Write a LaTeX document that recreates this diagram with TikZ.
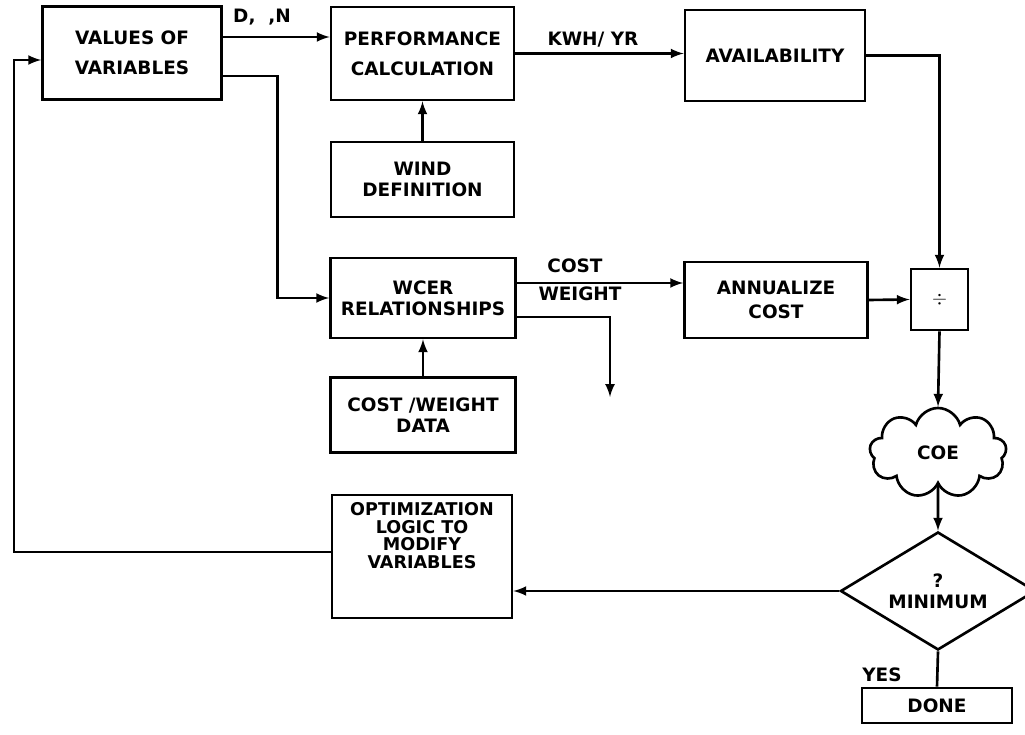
\documentclass[tikz,border=0pt]{standalone}
\usepackage{fontspec}
\setmainfont{DejaVu Sans}
\usetikzlibrary{shapes.geometric,shapes.symbols}
\begin{document}
\begin{tikzpicture}[>=latex, line width=1.5pt,
  box/.style={draw, align=center, inner sep=2pt,
    font=\bfseries\fontsize{10.5}{12}\selectfont},
  lbl/.style={font=\bfseries\fontsize{10.5}{12}\selectfont}]
\useasboundingbox (0,0) rectangle (20.5,14.7);
% Kaesten oben
\node[box, minimum width=3.58cm, minimum height=1.86cm] (vals) at (2.64,13.64) {VALUES OF\\[5pt]VARIABLES};
\node[box, minimum width=3.66cm, minimum height=1.86cm] (perf) at (8.45,13.63) {PERFORMANCE\\[5pt]CALCULATION};
\node[box, minimum width=3.60cm, minimum height=1.82cm] (avail) at (15.50,13.59) {AVAILABILITY};
\node[box, minimum width=3.66cm, minimum height=1.50cm] (wind) at (8.45,11.11) {WIND\\DEFINITION};
% Kaesten Mitte
\node[box, minimum width=3.70cm, minimum height=1.60cm] (wcer) at (8.46,8.74) {WCER\\RELATIONSHIPS};
\node[box, minimum width=3.70cm, minimum height=1.50cm] (costw) at (8.46,6.40) {COST /WEIGHT\\DATA};
\node[box, minimum width=3.66cm, minimum height=1.52cm] (annual) at (15.52,8.70) {ANNUALIZE\\[2pt]COST};
\node[box, minimum width=1.14cm, minimum height=1.22cm] (div) at (18.79,8.71) {$\div$};
% Ergebnis und Abfrage
\node[draw, cloud, cloud puffs=9, aspect=1.6, minimum width=2.74cm, minimum height=1.8cm, lbl] (coe) at (18.76,5.64) {COE};
\node[draw, diamond, aspect=1.65, inner sep=0pt, minimum width=3.9cm, minimum height=2.36cm, align=center, lbl] (minim) at (18.76,2.88) {?\\MINIMUM};
\node[box, minimum width=3.0cm, minimum height=0.70cm] (done) at (18.74,0.59) {DONE};
\node[box, minimum width=3.60cm, minimum height=2.46cm, font=\bfseries\fontsize{10}{10}\selectfont] (opt) at (8.44,3.57) {OPTIMIZATION\\LOGIC TO\\MODIFY\\VARIABLES\\[14pt]};
% Verbindungen
\draw[->] ([yshift=0.32cm]vals.east) -- ([yshift=0.32cm]vals.east -| perf.west);
\draw[->] ([yshift=-0.46cm]vals.east) -| ([xshift=-1.03cm]wcer.west) -- (wcer.west);
\draw[->] (perf.east) -- (perf.east -| avail.west);
\draw[->] (avail.east) -| (div.north);
\draw[->] (wind.north) -- (perf.south);
\draw[->] ([yshift=0.30cm]wcer.east) -- ([yshift=0.30cm]wcer.east -| annual.west);
\coordinate (wout) at (12.2,6.76);
\draw[->] ([yshift=-0.38cm]wcer.east) -| (wout);
\draw[->] (costw.north) -- (wcer.south);
\draw[->] (annual.east) -- (div.west);
\draw[->] (div.south) -- (coe.north);
\draw[->] (coe.south) -- (minim.north);
\draw[->] (minim.west) -- (minim.west -| opt.east);
\coordinate (back) at (0.28,3.66);
\draw[->] (opt.west |- back) -- (back) |- ([yshift=-0.14cm]vals.west);
\draw (minim.south) -- (done.north);
% Beschriftungen
\node[lbl] (dn) at (5.24,14.36) {D,\ \ ,N};
\node[lbl] (kwh) at (11.86,13.90) {KWH/ YR};
\node[lbl] (cost) at (11.50,9.38) {COST};
\node[lbl] (wgt) at (11.60,8.82) {WEIGHT};
\node[lbl] (yes) at (17.64,1.20) {YES};
\end{tikzpicture}
\end{document}
